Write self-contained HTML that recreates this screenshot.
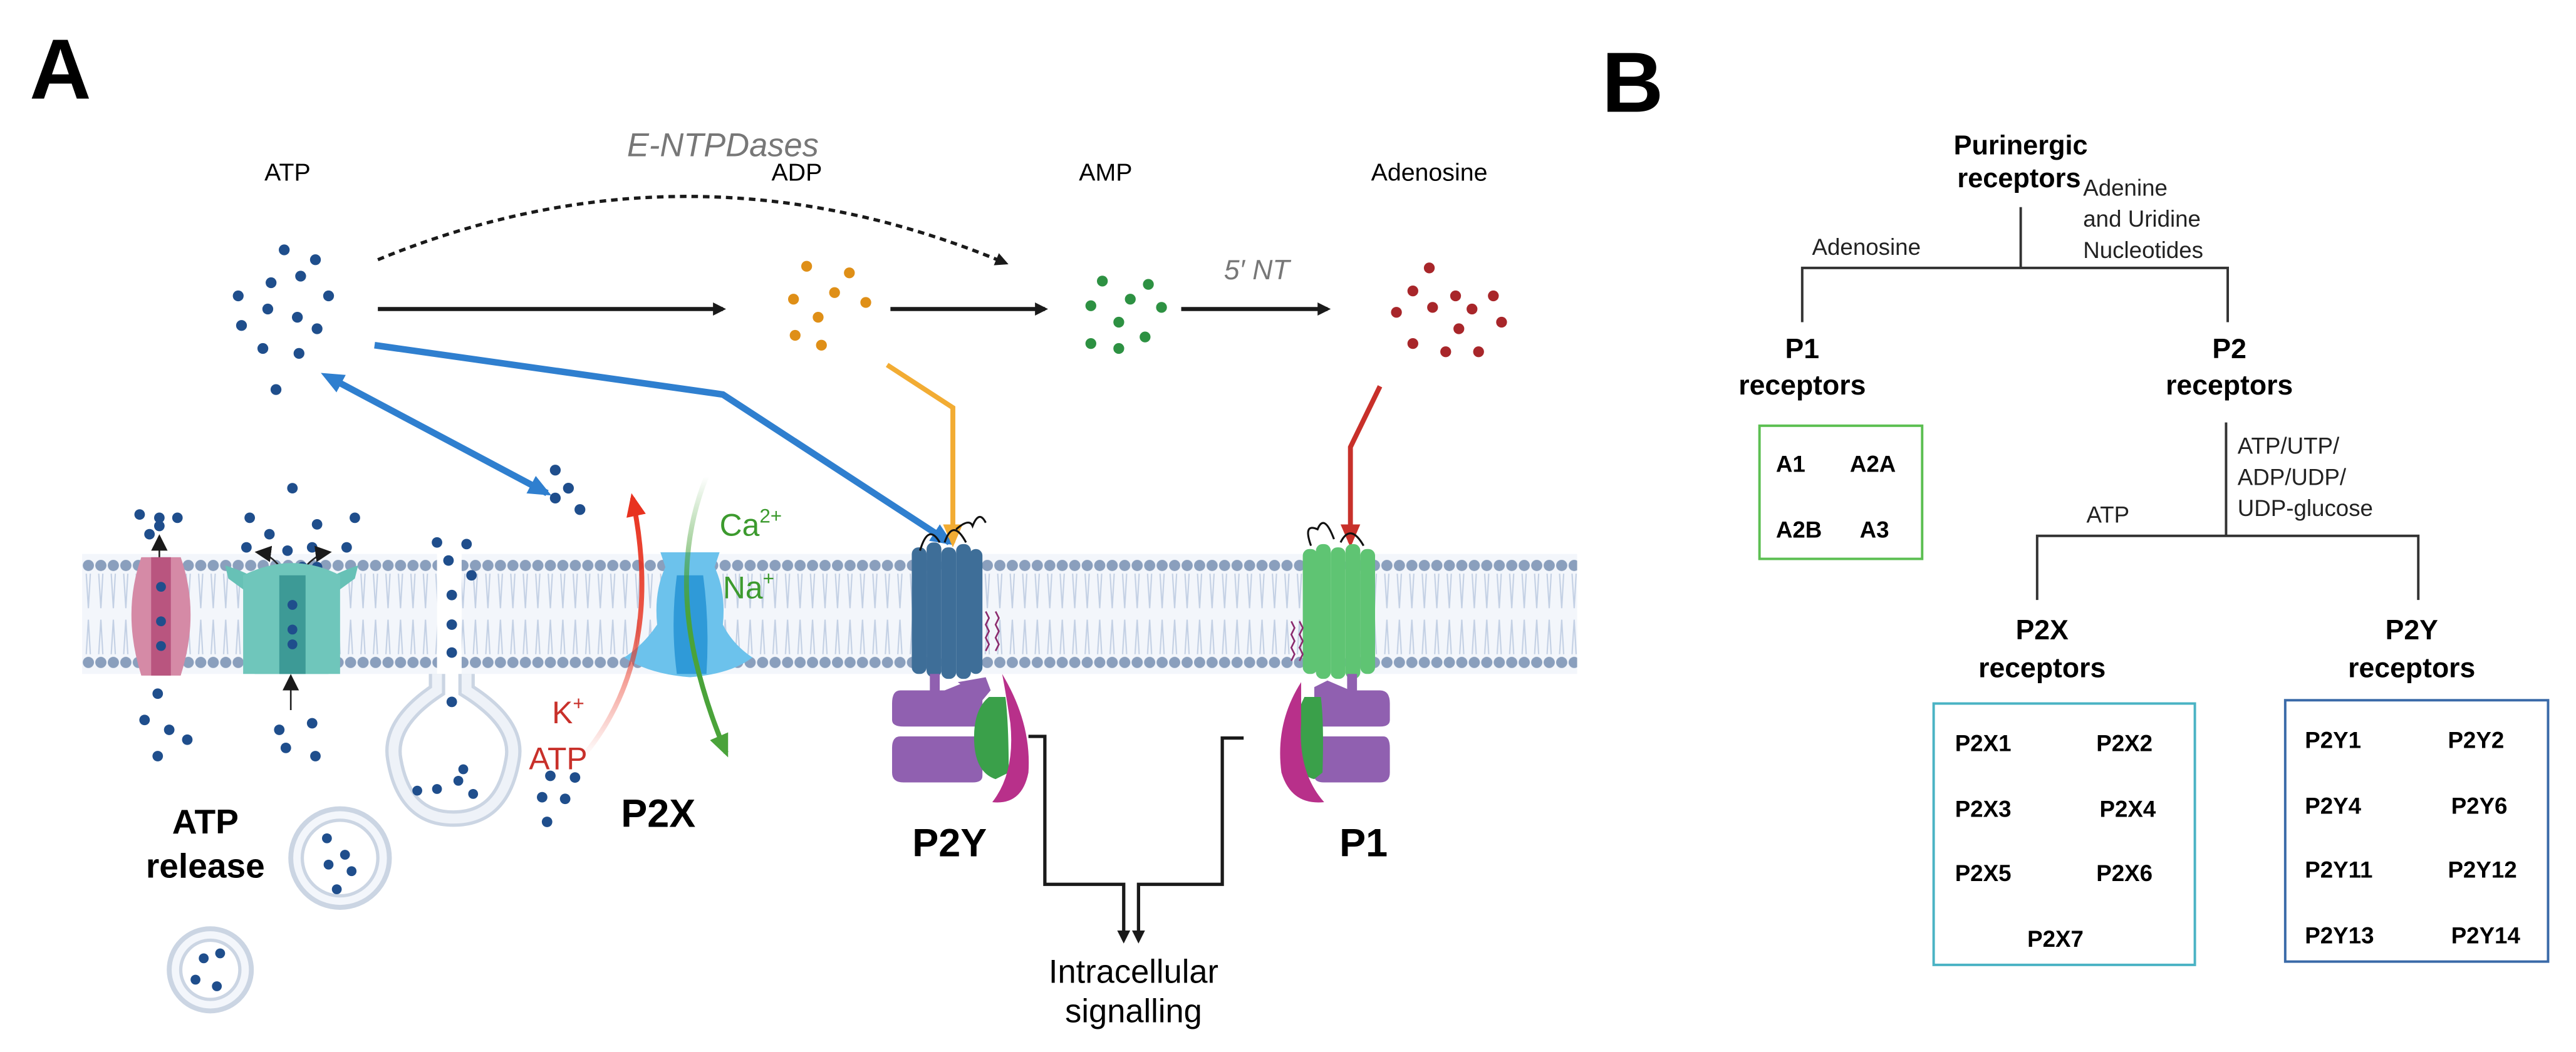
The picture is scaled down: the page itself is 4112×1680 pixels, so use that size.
<!DOCTYPE html>
<html><head><meta charset="utf-8"><style>
html,body{margin:0;padding:0;background:#fff;}
svg{display:block;}
text{font-family:"Liberation Sans",sans-serif;}
</style></head><body>
<svg width="4112" height="1680" viewBox="0 0 1568 640" preserveAspectRatio="none" xmlns="http://www.w3.org/2000/svg">
<defs>
<pattern id="mem" x="50" y="337" width="7.6" height="73" patternUnits="userSpaceOnUse">
<rect width="7.6" height="73" fill="#f3f6fb"/>
<path d="M2.5 12 L3.8 33 L5 12 M2.5 61 L3.8 40 L5 61" stroke="#c3d0e4" stroke-width="0.8" fill="none"/>
<circle cx="3.8" cy="7" r="3.4" fill="#8a9fbd"/>
<circle cx="3.8" cy="66" r="3.4" fill="#8a9fbd"/>
</pattern>
<marker id="ak" markerWidth="8" markerHeight="8" refX="6" refY="4" orient="auto" markerUnits="userSpaceOnUse"><path d="M0 0 L8 4 L0 8 Z" fill="#1a1a1a"/></marker>
<marker id="ab" markerWidth="14" markerHeight="12" refX="11" refY="6" orient="auto" markerUnits="userSpaceOnUse"><path d="M0 0 L14 6 L0 12 Z" fill="#2f7fcf"/></marker>
<marker id="ab2" markerWidth="14" markerHeight="12" refX="3" refY="6" orient="auto-start-reverse" markerUnits="userSpaceOnUse"><path d="M0 0 L14 6 L0 12 Z" fill="#2f7fcf"/></marker>
<marker id="ao" markerWidth="14" markerHeight="12" refX="11" refY="6" orient="auto" markerUnits="userSpaceOnUse"><path d="M0 0 L14 6 L0 12 Z" fill="#f2ac33"/></marker>
<marker id="ar" markerWidth="14" markerHeight="12" refX="11" refY="6" orient="auto" markerUnits="userSpaceOnUse"><path d="M0 0 L14 6 L0 12 Z" fill="#c8302a"/></marker>
<marker id="arr" markerWidth="14" markerHeight="12" refX="11" refY="6" orient="auto" markerUnits="userSpaceOnUse"><path d="M0 0 L14 6 L0 12 Z" fill="#e8321f"/></marker>
<marker id="ag" markerWidth="14" markerHeight="12" refX="11" refY="6" orient="auto" markerUnits="userSpaceOnUse"><path d="M0 0 L14 6 L0 12 Z" fill="#4aa33a"/></marker>
<marker id="as" markerWidth="10" markerHeight="12" refX="8" refY="5" orient="auto" markerUnits="userSpaceOnUse"><path d="M0 0 L10 5 L0 10 Z" fill="#1a1a1a"/></marker>
<linearGradient id="redg" x1="0" y1="1" x2="0" y2="0"><stop offset="0" stop-color="#e8321f" stop-opacity="0"/><stop offset="0.5" stop-color="#e8321f" stop-opacity="0.8"/><stop offset="1" stop-color="#e8321f"/></linearGradient>
<linearGradient id="greeng" x1="0" y1="0" x2="0" y2="1"><stop offset="0" stop-color="#4aa33a" stop-opacity="0"/><stop offset="0.5" stop-color="#4aa33a"/><stop offset="1" stop-color="#4aa33a"/></linearGradient>
</defs>

<!-- Panel A -->
<text x="18" y="60" font-size="52" font-weight="bold">A</text>
<text x="440" y="95" font-size="20" font-style="italic" fill="#777" text-anchor="middle">E-NTPDases</text>
<path d="M230 158 Q420 80 612 160" fill="none" stroke="#1a1a1a" stroke-width="2" stroke-dasharray="4,3" marker-end="url(#ak)"/>
<text x="175" y="110" font-size="15" text-anchor="middle">ATP</text>
<text x="485" y="110" font-size="15" text-anchor="middle">ADP</text>
<text x="673" y="110" font-size="15" text-anchor="middle">AMP</text>
<text x="870" y="110" font-size="15" text-anchor="middle">Adenosine</text>
<text x="765" y="170" font-size="17" font-style="italic" fill="#777" text-anchor="middle">5′ NT</text>

<g fill="#1f4e8c">
<circle cx="173" cy="152" r="3.3"/><circle cx="192" cy="158" r="3.3"/><circle cx="165" cy="172" r="3.3"/><circle cx="183" cy="168" r="3.3"/>
<circle cx="145" cy="180" r="3.3"/><circle cx="200" cy="180" r="3.3"/><circle cx="163" cy="188" r="3.3"/><circle cx="181" cy="193" r="3.3"/>
<circle cx="147" cy="198" r="3.3"/><circle cx="193" cy="200" r="3.3"/><circle cx="160" cy="212" r="3.3"/><circle cx="182" cy="215" r="3.3"/><circle cx="168" cy="237" r="3.3"/>
</g>
<g fill="#df8f17">
<circle cx="491" cy="162" r="3.3"/><circle cx="517" cy="166" r="3.3"/><circle cx="508" cy="178" r="3.3"/><circle cx="483" cy="182" r="3.3"/>
<circle cx="527" cy="184" r="3.3"/><circle cx="498" cy="193" r="3.3"/><circle cx="484" cy="204" r="3.3"/><circle cx="500" cy="210" r="3.3"/>
</g>
<g fill="#2d9142">
<circle cx="671" cy="171" r="3.3"/><circle cx="699" cy="173" r="3.3"/><circle cx="688" cy="182" r="3.3"/><circle cx="664" cy="186" r="3.3"/>
<circle cx="707" cy="187" r="3.3"/><circle cx="681" cy="196" r="3.3"/><circle cx="664" cy="209" r="3.3"/><circle cx="697" cy="205" r="3.3"/><circle cx="681" cy="212" r="3.3"/>
</g>
<g fill="#a8262a">
<circle cx="870" cy="163" r="3.3"/><circle cx="860" cy="177" r="3.3"/><circle cx="886" cy="180" r="3.3"/><circle cx="909" cy="180" r="3.3"/>
<circle cx="850" cy="190" r="3.3"/><circle cx="872" cy="187" r="3.3"/><circle cx="896" cy="188" r="3.3"/><circle cx="914" cy="196" r="3.3"/>
<circle cx="888" cy="200" r="3.3"/><circle cx="860" cy="209" r="3.3"/><circle cx="880" cy="214" r="3.3"/><circle cx="900" cy="214" r="3.3"/>
</g>

<line x1="230" y1="188" x2="440" y2="188" stroke="#1a1a1a" stroke-width="2.5" marker-end="url(#ak)"/>
<line x1="542" y1="188" x2="636" y2="188" stroke="#1a1a1a" stroke-width="2.5" marker-end="url(#ak)"/>
<line x1="719" y1="188" x2="808" y2="188" stroke="#1a1a1a" stroke-width="2.5" marker-end="url(#ak)"/>

<polyline points="228,210 440,240 578,330" fill="none" stroke="#2f7fcf" stroke-width="4" marker-end="url(#ab)"/>
<line x1="205" y1="232" x2="333" y2="300" stroke="#2f7fcf" stroke-width="4" marker-start="url(#ab2)" marker-end="url(#ab)"/>
<polyline points="540,222 580,248 580,330" fill="none" stroke="#f2ac33" stroke-width="3" marker-end="url(#ao)"/>
<polyline points="840,235 822,272 822,330" fill="none" stroke="#c8302a" stroke-width="3" marker-end="url(#ar)"/>

<!-- membrane -->
<rect x="50" y="337" width="216" height="73" fill="url(#mem)"/>
<rect x="281" y="337" width="679" height="73" fill="url(#mem)"/>

<g fill="#1f4e8c">
<circle cx="338" cy="286" r="3.3"/><circle cx="346" cy="297" r="3.3"/><circle cx="338" cy="303" r="3.3"/><circle cx="353" cy="310" r="3.3"/>
<circle cx="85" cy="313" r="3.2"/><circle cx="97" cy="315" r="3.2"/><circle cx="108" cy="315" r="3.2"/><circle cx="91" cy="325" r="3.2"/><circle cx="97" cy="320" r="3.2"/>
<circle cx="178" cy="297" r="3.2"/><circle cx="152" cy="315" r="3.2"/><circle cx="193" cy="319" r="3.2"/><circle cx="216" cy="315" r="3.2"/><circle cx="164" cy="325" r="3.2"/><circle cx="150" cy="333" r="3.2"/>
<circle cx="175" cy="335" r="3.2"/><circle cx="190" cy="333" r="3.2"/><circle cx="211" cy="333" r="3.2"/><circle cx="184" cy="345" r="3.2"/><circle cx="193" cy="345" r="3.2"/>
<circle cx="96" cy="422" r="3.2"/><circle cx="88" cy="438" r="3.2"/><circle cx="103" cy="444" r="3.2"/><circle cx="114" cy="450" r="3.2"/><circle cx="96" cy="460" r="3.2"/>
<circle cx="170" cy="444" r="3.2"/><circle cx="190" cy="440" r="3.2"/><circle cx="174" cy="455" r="3.2"/><circle cx="192" cy="460" r="3.2"/>
<circle cx="266" cy="330" r="3.2"/><circle cx="284" cy="331" r="3.2"/><circle cx="273" cy="341" r="3.2"/><circle cx="287" cy="350" r="3.2"/>
<circle cx="275" cy="362" r="3.2"/><circle cx="275" cy="380" r="3.2"/><circle cx="275" cy="397" r="3.2"/><circle cx="275" cy="427" r="3.2"/>
<circle cx="335" cy="472" r="3.2"/><circle cx="350" cy="473" r="3.2"/><circle cx="330" cy="485" r="3.2"/><circle cx="344" cy="486" r="3.2"/><circle cx="333" cy="500" r="3.2"/>
</g>
<line x1="97" y1="345" x2="97" y2="327" stroke="#222" stroke-width="1" marker-end="url(#as)"/>
<line x1="177" y1="432" x2="177" y2="412" stroke="#222" stroke-width="1" marker-end="url(#as)"/>
<path d="M172 347 Q165 337 157 336" stroke="#222" stroke-width="1" fill="none" marker-end="url(#as)"/>
<path d="M184 347 Q192 337 200 336" stroke="#222" stroke-width="1" fill="none" marker-end="url(#as)"/>

<!-- pink channel -->
<path d="M86 339 Q74 373 86 411 L110 411 Q122 373 110 339 Z" fill="#d58aa6"/>
<rect x="92" y="339" width="12" height="72" fill="#b9557f"/>
<g fill="#1f4e8c"><circle cx="98" cy="357" r="3"/><circle cx="98" cy="378" r="3"/><circle cx="98" cy="393" r="3"/></g>
<!-- teal channel -->
<path d="M137 344 Q150 348 155 352 Q152 375 155 410 L200 410 Q203 375 200 352 Q206 348 218 344 L216 352 L205 360 L205 350 Q178 340 150 350 L150 360 L139 352 Z" fill="#67c1b6"/>
<path d="M148 350 Q178 335 207 350 L207 410 L148 410 Z" fill="#6fc6bb"/>
<rect x="170" y="350" width="16" height="60" fill="#3d9a96"/>
<g fill="#1f4e8c"><circle cx="178" cy="368" r="3"/><circle cx="178" cy="383" r="3"/><circle cx="178" cy="392" r="3"/></g>
<!-- fusing vesicle -->
<path d="M266 410 L266 420 Q236 440 240 462 Q246 498 276 498 Q306 498 312 462 Q316 440 284 420 L284 410" fill="none" stroke="#cbd5e3" stroke-width="10"/>
<path d="M266 410 L266 420 Q236 440 240 462 Q246 498 276 498 Q306 498 312 462 Q316 440 284 420 L284 410" fill="none" stroke="#eef2f8" stroke-width="6"/>
<g fill="#1f4e8c"><circle cx="266" cy="480" r="3"/><circle cx="279" cy="475" r="3"/><circle cx="282" cy="468" r="3"/><circle cx="288" cy="483" r="3"/><circle cx="254" cy="481" r="3"/></g>
<circle cx="207" cy="522" r="30" fill="#f3f6fb" stroke="#cbd5e3" stroke-width="3"/>
<circle cx="207" cy="522" r="23" fill="#fff" stroke="#cbd5e3" stroke-width="2"/>
<g fill="#1f4e8c"><circle cx="199" cy="510" r="3"/><circle cx="210" cy="520" r="3"/><circle cx="200" cy="526" r="3"/><circle cx="214" cy="530" r="3"/><circle cx="205" cy="541" r="3"/></g>
<circle cx="128" cy="590" r="25" fill="#f3f6fb" stroke="#cbd5e3" stroke-width="3"/>
<circle cx="128" cy="590" r="18" fill="#fff" stroke="#cbd5e3" stroke-width="2"/>
<g fill="#1f4e8c"><circle cx="124" cy="583" r="3"/><circle cx="134" cy="580" r="3"/><circle cx="119" cy="596" r="3"/><circle cx="132" cy="600" r="3"/></g>

<text x="125" y="507" font-size="21" font-weight="bold" text-anchor="middle">ATP</text>
<text x="125" y="534" font-size="21" font-weight="bold" text-anchor="middle">release</text>

<!-- P2X channel -->
<path d="M402 336 L405 345 Q398 360 400 380 Q392 392 380 400 Q395 410 420 412 Q445 410 458 400 Q446 392 440 380 Q442 360 435 345 L438 336 Z" fill="#6cc2ec"/>
<path d="M412 350 Q408 380 412 410 L430 410 Q432 380 428 350 Z" fill="#2f9ad8"/>
<path d="M355 460 Q405 400 385 303" fill="none" stroke="url(#redg)" stroke-width="3" marker-end="url(#arr)"/>
<path d="M430 290 Q410 340 423 400 Q430 430 442 458" fill="none" stroke="url(#greeng)" stroke-width="3" marker-end="url(#ag)"/>
<text x="438" y="326" font-size="19" fill="#3c9a2e">Ca<tspan font-size="12" dy="-8">2+</tspan></text>
<text x="440" y="364" font-size="19" fill="#3c9a2e">Na<tspan font-size="12" dy="-8">+</tspan></text>
<text x="336" y="440" font-size="19" fill="#c8302a">K<tspan font-size="12" dy="-8">+</tspan></text>
<text x="322" y="468" font-size="19" fill="#c8302a">ATP</text>
<text x="378" y="503" font-size="24" font-weight="bold">P2X</text>

<!-- P2Y receptor -->
<g fill="#3e6e98">
<rect x="555" y="333" width="9" height="77" rx="4"/><rect x="564" y="330" width="9" height="82" rx="4"/><rect x="573" y="333" width="9" height="80" rx="4"/><rect x="582" y="331" width="9" height="82" rx="4"/><rect x="590" y="334" width="8" height="76" rx="4"/>
</g>
<path d="M560 335 Q565 318 572 330 M575 330 Q580 315 588 330 M582 322 Q590 315 592 320 Q596 310 600 318" stroke="#111" stroke-width="1.2" fill="none"/>
<path d="M600 372 l2 4 l-2 4 l2 4 l-2 4 l2 4 l-2 4 M606 372 l2 4 l-2 4 l2 4 l-2 4 l2 4 l-2 4" stroke="#8b2b6e" stroke-width="1" fill="none"/>
<rect x="566" y="410" width="6" height="12" fill="#9060b0"/>
<path d="M548 420 Q543 420 543 428 L543 438 Q543 442 550 442 L598 442 L598 418 L590 414 L575 420 Z" fill="#9060b0"/>
<path d="M548 448 L598 448 L598 472 Q598 476 592 476 L550 476 Q543 476 543 470 L543 455 Q543 448 548 448 Z" fill="#9060b0"/>
<path d="M583 415 L600 412 L603 420 L598 426 Z" fill="#9060b0"/>
<path d="M602 424 Q592 432 593 452 Q594 470 606 474 L614 470 Q614 440 612 424 Z" fill="#3aa04a"/>
<path d="M610 410 Q628 440 626 470 Q622 490 604 488 Q618 470 615 440 Q612 420 610 410 Z" fill="#b8308a"/>
<text x="578" y="521" font-size="24" font-weight="bold" text-anchor="middle">P2Y</text>

<!-- P1 receptor -->
<g fill="#5fc473">
<rect x="793" y="334" width="9" height="76" rx="4"/><rect x="801" y="331" width="9" height="82" rx="4"/><rect x="810" y="333" width="9" height="80" rx="4"/><rect x="819" y="331" width="9" height="82" rx="4"/><rect x="828" y="334" width="9" height="76" rx="4"/>
</g>
<path d="M798 332 Q793 318 802 322 Q806 312 812 328 M816 330 Q822 318 830 332" stroke="#111" stroke-width="1.2" fill="none"/>
<path d="M786 378 l2 4 l-2 4 l2 4 l-2 4 l2 4 l-2 4 M791 378 l2 4 l-2 4 l2 4 l-2 4 l2 4 l-2 4" stroke="#8b2b6e" stroke-width="1" fill="none"/>
<rect x="820" y="410" width="6" height="12" fill="#9060b0"/>
<path d="M840 420 Q846 420 846 428 L846 438 Q846 442 840 442 L800 442 L800 418 L808 414 L822 420 Z" fill="#9060b0"/>
<path d="M842 448 L800 448 L800 472 Q800 476 806 476 L840 476 Q846 476 846 470 L846 455 Q846 448 842 448 Z" fill="#9060b0"/>
<path d="M794 424 Q786 440 788 455 Q790 472 800 474 L805 470 Q806 440 804 424 Z" fill="#3aa04a"/>
<path d="M792 415 Q776 440 780 470 Q786 490 806 488 Q790 470 792 440 Z" fill="#b8308a"/>
<text x="830" y="521" font-size="24" font-weight="bold" text-anchor="middle">P1</text>

<polyline points="626,448 636,448 636,538 684,538 684,572" fill="none" stroke="#1a1a1a" stroke-width="2" marker-end="url(#ak)"/>
<polyline points="757,449 744,449 744,538 693,538 693,572" fill="none" stroke="#1a1a1a" stroke-width="2" marker-end="url(#ak)"/>
<text x="690" y="598" font-size="20" text-anchor="middle">Intracellular</text>
<text x="690" y="622" font-size="20" text-anchor="middle">signalling</text>

<!-- Panel B -->
<text x="975" y="68" font-size="52" font-weight="bold">B</text>
<text x="1230" y="94" font-size="16.5" font-weight="bold" text-anchor="middle">Purinergic</text>
<text x="1229" y="114" font-size="16.5" font-weight="bold" text-anchor="middle">receptors</text>
<g stroke="#333" stroke-width="1.5" fill="none">
<polyline points="1230,126 1230,163"/>
<polyline points="1097,196 1097,163 1356,163 1356,196"/>
<polyline points="1355,257 1355,326"/>
<polyline points="1240,365 1240,326 1472,326 1472,365"/>
</g>
<text x="1103" y="155" font-size="14" fill="#222">Adenosine</text>
<text x="1268" y="119" font-size="14" fill="#222">Adenine</text>
<text x="1268" y="138" font-size="14" fill="#222">and Uridine</text>
<text x="1268" y="157" font-size="14" fill="#222">Nucleotides</text>
<text x="1097" y="218" font-size="17" font-weight="bold" text-anchor="middle">P1</text>
<text x="1097" y="240" font-size="17" font-weight="bold" text-anchor="middle">receptors</text>
<text x="1357" y="218" font-size="17" font-weight="bold" text-anchor="middle">P2</text>
<text x="1357" y="240" font-size="17" font-weight="bold" text-anchor="middle">receptors</text>
<rect x="1071" y="259" width="99" height="81" fill="none" stroke="#5cbf52" stroke-width="1.5"/>
<g font-size="14" font-weight="bold">
<text x="1081" y="287">A1</text><text x="1126" y="287">A2A</text>
<text x="1081" y="327">A2B</text><text x="1132" y="327">A3</text>
</g>
<text x="1270" y="318" font-size="14" fill="#222">ATP</text>
<text x="1362" y="276" font-size="14" fill="#222">ATP/UTP/</text>
<text x="1362" y="295" font-size="14" fill="#222">ADP/UDP/</text>
<text x="1362" y="314" font-size="14" fill="#222">UDP-glucose</text>
<text x="1243" y="389" font-size="17" font-weight="bold" text-anchor="middle">P2X</text>
<text x="1243" y="412" font-size="17" font-weight="bold" text-anchor="middle">receptors</text>
<text x="1468" y="389" font-size="17" font-weight="bold" text-anchor="middle">P2Y</text>
<text x="1468" y="412" font-size="17" font-weight="bold" text-anchor="middle">receptors</text>
<rect x="1177" y="428" width="159" height="159" fill="none" stroke="#4ab3c4" stroke-width="1.5"/>
<rect x="1391" y="426" width="160" height="159" fill="none" stroke="#3a6aa8" stroke-width="1.5"/>
<g font-size="14" font-weight="bold">
<text x="1190" y="457">P2X1</text><text x="1276" y="457">P2X2</text>
<text x="1190" y="497">P2X3</text><text x="1278" y="497">P2X4</text>
<text x="1190" y="536">P2X5</text><text x="1276" y="536">P2X6</text>
<text x="1234" y="576">P2X7</text>
<text x="1403" y="455">P2Y1</text><text x="1490" y="455">P2Y2</text>
<text x="1403" y="495">P2Y4</text><text x="1492" y="495">P2Y6</text>
<text x="1403" y="534">P2Y11</text><text x="1490" y="534">P2Y12</text>
<text x="1403" y="574">P2Y13</text><text x="1492" y="574">P2Y14</text>
</g>
</svg>
</body></html>
